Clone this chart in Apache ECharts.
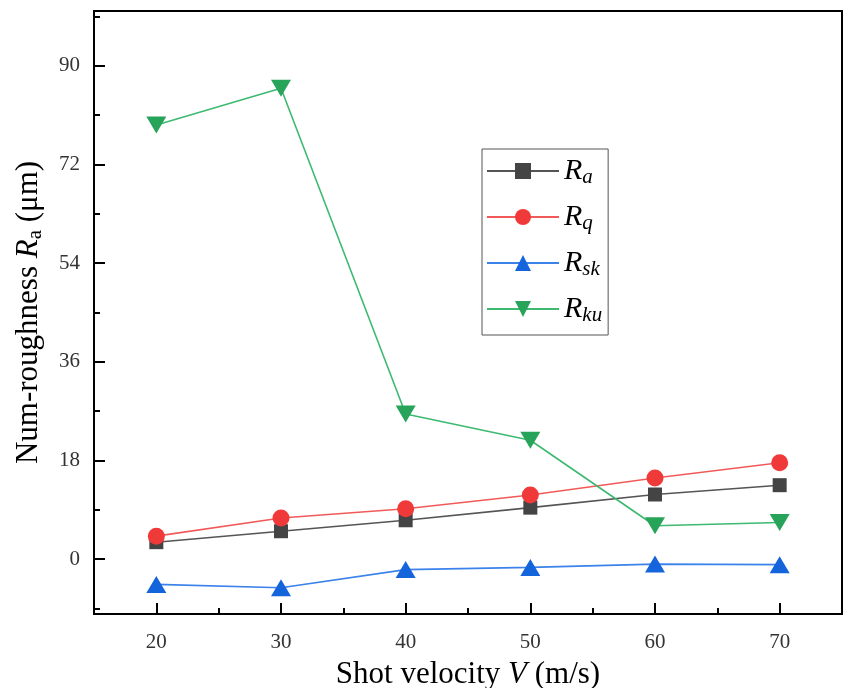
<!DOCTYPE html>
<html>
<head>
<meta charset="utf-8">
<script src="https://cdn.jsdelivr.net/npm/echarts@6/dist/echarts.min.js"></script>
<style>
  html, body { margin: 0; padding: 0; background: #fff; }
  #chart { width: 846px; height: 688px; }
</style>
</head>
<body>
<div id="chart"></div>
<script>
const velocity = [20, 30, 40, 50, 60, 70];
const ra = [3.1, 5.1, 7.1, 9.4, 11.8, 13.5];
const rq = [4.2, 7.5, 9.2, 11.7, 14.8, 17.6];
const rsk = [-4.6, -5.2, -1.9, -1.5, -0.9, -1.0];
const rku = [79.2, 85.9, 26.5, 21.7, 6.1, 6.7];

const xMajor = [20, 30, 40, 50, 60, 70];
const xMinor = [25, 35, 45, 55, 65];
const yMajor = [0, 18, 36, 54, 72, 90];
const yMinor = [-9, 9, 27, 45, 63, 81, 99];

const font = "'Liberation Serif', 'DejaVu Serif', serif";

function pairs(ys) {
  return velocity.map((x, i) => [x, ys[i]]);
}

const chart = echarts.init(document.getElementById('chart'));

const seriesDefs = [
  { key: 'a', data: ra, symbol: 'rect', size: 14, color: '#444444', line: '#555555' },
  { key: 'q', data: rq, symbol: 'circle', size: 17, color: '#f03a3a', line: '#f25a5a' },
  { key: 'sk', data: rsk, symbol: 'triangle', size: [20, 17], color: '#1464dc', line: '#3b82ea' },
  { key: 'ku', data: rku, symbol: 'path://M0,0 L10,0 L5,9 Z', size: [20, 17], color: '#27a35a', line: '#3dba70' },
];

const option = {
  animation: false,
  grid: {
    left: 94, top: 11, right: 4, bottom: 74,
    outerBoundsMode: 'none',
    show: true, borderColor: '#000', borderWidth: 2
  },
  legend: {
    orient: 'vertical',
    left: 482, top: 149,
    padding: [7, 6, 9, 4],
    borderColor: '#555',
    borderWidth: 1,
    itemWidth: 72,
    itemHeight: 20,
    itemGap: 14,
    data: seriesDefs.map(s => 'R' + s.key),
    formatter: name => '{r|R}{s|' + name.slice(1) + '}',
    textStyle: {
      fontFamily: font,
      rich: {
        r: { fontFamily: font, fontStyle: 'italic', fontSize: 30, color: '#000', height: 30 },
        s: { fontFamily: font, fontStyle: 'italic', fontSize: 21, color: '#000', padding: [13, 0, 0, 0] }
      }
    }
  },
  xAxis: [{
    type: 'value', min: 15, max: 75,
    axisLine: { onZero: false, lineStyle: { color: '#000', width: 2 } },
    axisTick: { inside: true, length: 11, customValues: xMajor, lineStyle: { color: '#000', width: 2 } },
    axisLabel: { customValues: xMajor, fontFamily: font, fontSize: 21, color: '#333', margin: 18 },
    splitLine: { show: false },
    name: '{t|Shot velocity }{i|V}{t| (m/s)}',
    nameLocation: 'middle',
    nameGap: 45,
    nameTextStyle: {
      rich: {
        t: { fontFamily: font, fontSize: 31, color: '#000' },
        i: { fontFamily: font, fontSize: 31, fontStyle: 'italic', color: '#000' }
      }
    }
  }, {
    type: 'value', min: 15, max: 75, position: 'bottom',
    axisLine: { show: false, onZero: false },
    axisTick: { inside: true, length: 6, customValues: xMinor, lineStyle: { color: '#000', width: 2 } },
    axisLabel: { show: false },
    splitLine: { show: false }
  }],
  yAxis: [{
    type: 'value', min: -10, max: 100,
    axisLine: { show: true, onZero: false, lineStyle: { color: '#000', width: 2 } },
    axisTick: { show: true, inside: true, length: 11, customValues: yMajor, lineStyle: { color: '#000', width: 2 } },
    axisLabel: { customValues: yMajor, fontFamily: font, fontSize: 21, color: '#333', margin: 14 },
    splitLine: { show: false },
    name: '{t|Num-roughness }{i|R}{s|a}{t| (μm)}',
    nameLocation: 'middle',
    nameGap: 48,
    nameTextStyle: {
      rich: {
        t: { fontFamily: font, fontSize: 31, color: '#000' },
        i: { fontFamily: font, fontSize: 31, fontStyle: 'italic', color: '#000' },
        s: { fontFamily: font, fontSize: 21, color: '#000', padding: [14, 0, 0, 0] }
      }
    }
  }, {
    type: 'value', min: -10, max: 100, position: 'left',
    axisLine: { show: false, onZero: false },
    axisTick: { show: true, inside: true, length: 6, customValues: yMinor, lineStyle: { color: '#000', width: 2 } },
    axisLabel: { show: false },
    splitLine: { show: false }
  }],
  series: seriesDefs.map(s => ({
    name: 'R' + s.key,
    type: 'line',
    data: pairs(s.data),
    symbol: s.symbol,
    symbolSize: s.size,
    itemStyle: { color: s.color },
    lineStyle: { color: s.line, width: 1.6 },
    z: 3
  }))
};

chart.setOption(option);
</script>
</body>
</html>
